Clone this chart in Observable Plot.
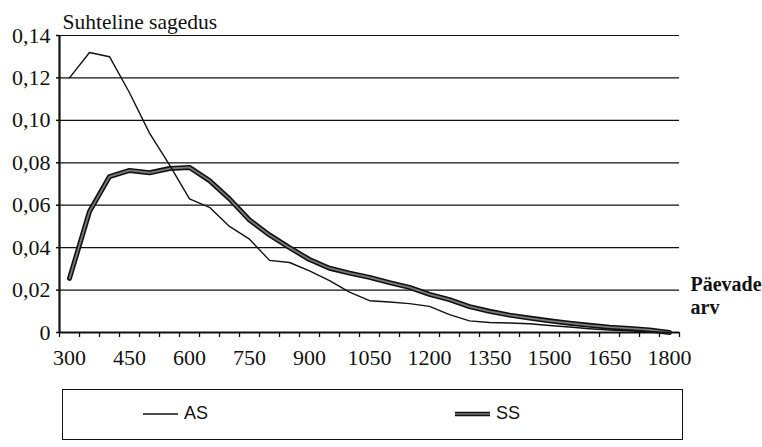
<!DOCTYPE html>
<html>
<head>
<meta charset="utf-8">
<script src="https://cdn.jsdelivr.net/npm/d3@7"></script>
<script src="https://cdn.jsdelivr.net/npm/@observablehq/plot@0.6"></script>
<style>
  html, body { margin: 0; padding: 0; background: #fff; }
  #wrap { width: 762px; height: 447px; position: relative; overflow: hidden; }
  #wrap svg g[aria-label$="tick label"], #wrap svg g[aria-label$="tick label"] text {
    font-size: 22px !important;
    font-family: "Liberation Serif", "Times New Roman", serif !important;
  }
  #legend {
    position: absolute; left: 62px; top: 389px; width: 619px; height: 49px;
    border: 1.5px solid #111; box-sizing: content-box;
    font-family: "Liberation Sans", Arial, sans-serif; font-size: 18px; color: #111;
  }
  .item { position: absolute; top: 13px; display: flex; align-items: center; }
  .item svg { margin-right: 5px; }
</style>
</head>
<body>
<div id="wrap"></div>
<script>
// ---- data ----
const days = [300, 350, 400, 450, 500, 550, 600, 650, 700, 750, 800, 850, 900, 950, 1000, 1050,
              1100, 1150, 1200, 1250, 1300, 1350, 1400, 1450, 1500, 1550, 1600, 1650, 1700, 1750, 1800];
const asValues = [0.120, 0.132, 0.130, 0.113, 0.094, 0.079, 0.063, 0.059, 0.050, 0.044, 0.034, 0.033,
                  0.029, 0.0245, 0.019, 0.015, 0.0144, 0.0136, 0.0123, 0.0084, 0.0055, 0.0047, 0.0045,
                  0.0041, 0.0033, 0.0026, 0.0018, 0.0012, 0.0008, 0.0004, 0.0];
const ssValues = [0.0255, 0.057, 0.0735, 0.0764, 0.0753, 0.0773, 0.0778, 0.0716, 0.063, 0.053, 0.046, 0.040,
                  0.0344, 0.0303, 0.028, 0.026, 0.0235, 0.0213, 0.018, 0.0155, 0.0122, 0.010, 0.0082,
                  0.0068, 0.0055, 0.0044, 0.0034, 0.0025, 0.0019, 0.0012, 0.0];
const seriesNames = ["AS", "SS"];
const xTickLabels = [300, 450, 600, 750, 900, 1050, 1200, 1350, 1500, 1650, 1800];
const yTicks = [0, 0.02, 0.04, 0.06, 0.08, 0.10, 0.12, 0.14];
const yTitle = "Suhteline sagedus";
const xTitle = "Päevade\narv";

// category boundaries (Excel-style category axis: points sit between tick marks)
const step = 50;
const xBoundaries = days.map(d => d - step / 2).concat([days[days.length - 1] + step / 2]);

const asData = days.map((d, i) => ({day: d, value: asValues[i], series: seriesNames[0]}));
const ssData = days.map((d, i) => ({day: d, value: ssValues[i], series: seriesNames[1]}));

const fmt = v => v === 0 ? "0" : v.toFixed(2).replace(".", ",");

const chart = Plot.plot({
  width: 762,
  height: 380,
  marginLeft: 59,
  marginRight: 83,
  marginTop: 35,
  marginBottom: 48,
  style: {fontFamily: "'Liberation Serif', 'Times New Roman', serif", fontSize: "22px", color: "#111", background: "#fff", overflow: "visible"},
  x: {domain: [xBoundaries[0], xBoundaries[xBoundaries.length - 1]]},
  y: {domain: [0, 0.14]},
  marks: [
    Plot.ruleY(yTicks.filter(v => v > 0), {stroke: "#111", strokeWidth: 1.2}),
    Plot.axisY({ticks: yTicks, tickFormat: fmt, tickSize: 3, tickPadding: 6, label: null, stroke: "#111", strokeWidth: 1.5}),
    Plot.axisX({ticks: xBoundaries, tickFormat: () => "", tickSize: 5, label: null, stroke: "#111", strokeWidth: 1.3}),
    Plot.axisX({ticks: xTickLabels, tickFormat: d => String(d), tickSize: 0, tickPadding: 17, label: null}),
    Plot.ruleX([xBoundaries[0]], {stroke: "#111", strokeWidth: 2.2}),
    Plot.ruleY([0], {stroke: "#111", strokeWidth: 2.2}),
    Plot.line(ssData, {x: "day", y: "value", stroke: "#111", strokeWidth: 5, strokeLinejoin: "round"}),
    Plot.line(ssData, {x: "day", y: "value", stroke: "#7a7a7a", strokeWidth: 1.8, strokeLinejoin: "round"}),
    Plot.line(asData, {x: "day", y: "value", stroke: "#111", strokeWidth: 1.4, strokeLinejoin: "round"}),
    Plot.text([yTitle], {frameAnchor: "top-left", text: d => d, textAnchor: "start", lineAnchor: "bottom", dx: 3, dy: -7, fontSize: 21.5}),
    Plot.text([xTitle], {frameAnchor: "bottom-right", text: d => d, textAnchor: "start", lineAnchor: "bottom", dx: 11, dy: -19, fontSize: 20, fontWeight: "bold", lineHeight: 1.15})
  ]
});
document.getElementById("wrap").appendChild(chart);

// legend below the chart
const legend = document.createElement("div");
legend.id = "legend";
legend.innerHTML = `
  <div class="item" style="left:79px"><svg width="37" height="10"><line x1="1" y1="5" x2="36" y2="5" stroke="#111" stroke-width="1.4"/></svg><span>${seriesNames[0]}</span></div>
  <div class="item" style="left:391px"><svg width="37" height="10"><line x1="1" y1="5" x2="36" y2="5" stroke="#111" stroke-width="4.5"/><line x1="1" y1="5" x2="36" y2="5" stroke="#7a7a7a" stroke-width="1.6"/></svg><span>${seriesNames[1]}</span></div>
`;
document.getElementById("wrap").appendChild(legend);
</script>
</body>
</html>
